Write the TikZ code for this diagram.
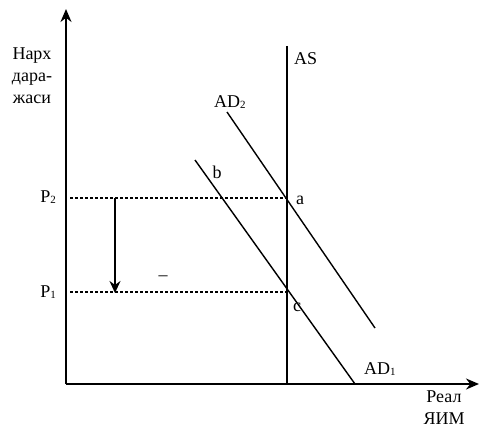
\documentclass[tikz,border=0pt]{standalone}
\usepackage{fontspec}
\setmainfont{Liberation Serif}
\usetikzlibrary{arrows.meta}
\begin{document}
\begin{tikzpicture}[x=1pt,y=-1pt,
  axis/.style={line width=1.8pt,-{Stealth[length=13pt,width=11pt]}},
  curve/.style={line width=1.4pt},
  guide/.style={line width=1.4pt,dash pattern=on 3pt off 2pt},
  lbl/.style={inner sep=0pt,font=\fontsize{18}{22}\selectfont},
  subs/.style={}]
\useasboundingbox (0,0) rectangle (487,428);
\coordinate (O) at (66,384);
\coordinate (ytop) at (66,9);
\coordinate (xend) at (479,384);
\coordinate (AStop) at (287,46);
\coordinate (ASbot) at (287,384);
\coordinate (a) at (287,198);
\coordinate (c) at (287,292);
\coordinate (p2l) at (70,198);
\coordinate (p1l) at (70,292);
\coordinate (arrtop) at (115,198);
\coordinate (arrbot) at (115,293);
\coordinate (ad2s) at (227,112);
\coordinate (ad2e) at (375,328);
\coordinate (ad1s) at (195,160);
\coordinate (ad1e) at (355,384);
\draw[axis] (O) -- (ytop);
\draw[axis] (O) -- (xend);
\draw[line width=1.6pt] (AStop) -- (ASbot);
\draw[guide] (p2l) -- (a);
\draw[guide] (p1l) -- (c);
\draw[line width=1.4pt,-{Stealth[length=12pt,width=11pt]}] (arrtop) -- (arrbot);
\draw[curve] (ad2s) -- (ad2e);
\draw[curve] (ad1s) -- (ad1e);
\node[lbl,align=center] (ylab) at (32,76) {Нарх\\дара-\\жаси};
\node[lbl,anchor=west] (aslab) at (294,59) {AS};
\node[lbl,anchor=west] (ad2lab) at (214,102) {AD{\fontsize{11}{12}\selectfont\raisebox{-0.5pt}{2}}};
\node[lbl,anchor=west] (ad1lab) at (364,369) {AD{\fontsize{11}{12}\selectfont\raisebox{-0.5pt}{1}}};
\node[lbl] (blab) at (217,172) {b};
\node[lbl] (alab) at (300,200) {a};
\node[lbl] (clab) at (297,307) {c};
\node[lbl,anchor=east] (p2lab) at (56,197) {P{\fontsize{11}{12}\selectfont\raisebox{-0.5pt}{2}}};
\node[lbl,anchor=east] (p1lab) at (56,292) {P{\fontsize{11}{12}\selectfont\raisebox{-0.5pt}{1}}};
\node[lbl] (dash) at (163,278) {–};
\node[lbl,align=center] (xlab) at (444,408) {Реал\\ЯИМ};
\end{tikzpicture}
\end{document}
